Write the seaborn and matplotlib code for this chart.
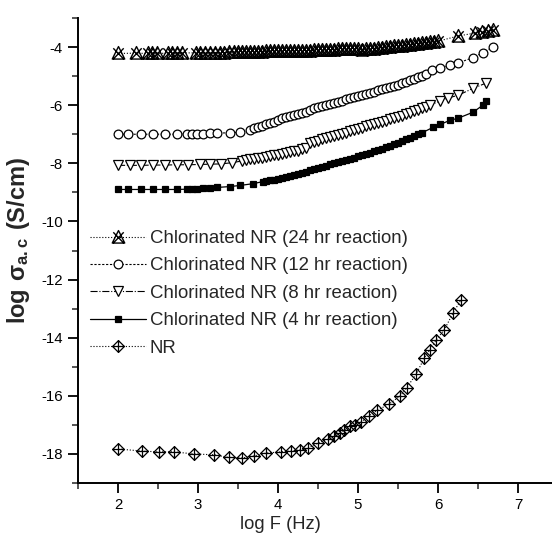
import matplotlib
matplotlib.use("Agg")
import matplotlib.pyplot as plt
from matplotlib.path import Path
from matplotlib.ticker import MultipleLocator
import seaborn as sns

# ---------------- data ----------------
labels = ["Chlorinated NR (24 hr reaction)", "Chlorinated NR (12 hr reaction)",
          "Chlorinated NR (8 hr reaction)", "Chlorinated NR (4 hr reaction)", "NR"]

x_24 = [2.0, 2.23, 2.37, 2.43, 2.49, 2.62, 2.68, 2.74, 2.8, 2.97, 3.03, 3.09, 3.15, 3.21, 3.27, 3.33, 3.39,
        3.45, 3.5, 3.55, 3.6, 3.65, 3.7, 3.75, 3.8, 3.85, 3.9, 3.95, 4.0, 4.05, 4.1, 4.15, 4.2, 4.25, 4.3,
        4.35, 4.4, 4.45, 4.5, 4.55, 4.6, 4.65, 4.7, 4.75, 4.8, 4.85, 4.9, 4.95, 5.0, 5.05, 5.1, 5.15, 5.2,
        5.25, 5.3, 5.35, 5.4, 5.45, 5.5, 5.55, 5.6, 5.65, 5.7, 5.75, 5.8, 5.85, 5.9, 5.95, 6.0,
        6.25, 6.46, 6.55, 6.63, 6.69]
y_24 = [-4.22, -4.21, -4.22, -4.21, -4.22, -4.21, -4.2, -4.21, -4.2, -4.2, -4.2, -4.19, -4.2, -4.19, -4.19, -4.19, -4.18,
        -4.18, -4.18, -4.17, -4.17, -4.17, -4.16, -4.16, -4.16, -4.15, -4.15, -4.15, -4.14, -4.14, -4.14, -4.13, -4.13, -4.13, -4.12,
        -4.12, -4.12, -4.11, -4.11, -4.1, -4.1, -4.09, -4.09, -4.08, -4.08, -4.07, -4.07, -4.06, -4.06, -4.1, -4.08, -4.07, -4.05,
        -4.04, -4.02, -4.01, -3.99, -3.98, -3.96, -3.95, -3.93, -3.92, -3.9, -3.88, -3.87, -3.85, -3.84, -3.82, -3.8,
        -3.62, -3.52, -3.48, -3.44, -3.4]

x_12 = [2.0, 2.13, 2.29, 2.44, 2.59, 2.74, 2.86, 2.93, 2.99, 3.06, 3.15, 3.24, 3.4, 3.53,
        3.65, 3.7, 3.75, 3.8, 3.85, 3.9, 3.95, 4.0, 4.05, 4.1, 4.15, 4.2, 4.25, 4.3, 4.35, 4.4, 4.45,
        4.5, 4.55, 4.6, 4.65, 4.7, 4.75, 4.8, 4.85, 4.9, 4.95, 5.0, 5.05, 5.1, 5.15, 5.2, 5.25, 5.3,
        5.35, 5.4, 5.45, 5.5, 5.55, 5.6, 5.65, 5.7, 5.75, 5.8, 5.85,
        5.93, 6.03, 6.15, 6.25, 6.44, 6.56, 6.69]
y_12 = [-7.0, -7.0, -7.0, -7.0, -7.0, -7.0, -6.99, -6.99, -6.98, -6.98, -6.97, -6.96, -6.95, -6.93,
        -6.85, -6.8, -6.75, -6.7, -6.66, -6.62, -6.57, -6.5, -6.45, -6.41, -6.37, -6.33, -6.3, -6.27, -6.24, -6.15, -6.1,
        -6.07, -6.03, -6.0, -5.96, -5.92, -5.88, -5.84, -5.8, -5.76, -5.72, -5.68, -5.65, -5.61, -5.57, -5.53, -5.49, -5.45,
        -5.41, -5.37, -5.33, -5.29, -5.24, -5.19, -5.14, -5.09, -5.04, -4.99, -4.93,
        -4.8, -4.72, -4.62, -4.55, -4.36, -4.19, -4.0]

x_8 = [2.0, 2.15, 2.29, 2.44, 2.59, 2.74, 2.88, 3.02, 3.15, 3.29, 3.42, 3.55,
       3.6, 3.65, 3.7, 3.75, 3.8, 3.85, 3.9, 3.95, 4.0, 4.05, 4.1, 4.15, 4.2, 4.25, 4.3, 4.35,
       4.4, 4.45, 4.5, 4.55, 4.6, 4.65, 4.7, 4.75, 4.8, 4.85, 4.9, 4.95, 5.0, 5.05, 5.1, 5.15, 5.2,
       5.25, 5.3, 5.35, 5.4, 5.45, 5.5, 5.55, 5.6, 5.65, 5.7, 5.75, 5.8, 5.85, 5.9,
       6.03, 6.13, 6.25, 6.44, 6.6]
y_8 = [-8.07, -8.07, -8.07, -8.06, -8.06, -8.05, -8.05, -8.04, -8.03, -8.02, -7.98, -7.92,
       -7.88, -7.86, -7.84, -7.82, -7.8, -7.78, -7.76, -7.73, -7.7, -7.68, -7.65, -7.62, -7.59, -7.56, -7.52, -7.48,
       -7.3, -7.26, -7.22, -7.18, -7.14, -7.1, -7.06, -7.02, -6.98, -6.94, -6.9, -6.86, -6.82, -6.77, -6.73, -6.69, -6.65,
       -6.61, -6.57, -6.53, -6.49, -6.45, -6.4, -6.36, -6.31, -6.26, -6.21, -6.16, -6.1, -6.05, -6.0,
       -5.85, -5.75, -5.66, -5.42, -5.24]

x_4 = [2.0, 2.13, 2.29, 2.44, 2.59, 2.74, 2.86, 2.93, 2.99, 3.06, 3.15, 3.24, 3.4, 3.53, 3.69, 3.81,
       3.85, 3.9, 3.95, 4.0, 4.05, 4.1, 4.15, 4.2, 4.25, 4.3, 4.35, 4.4, 4.45, 4.5, 4.55, 4.6, 4.65,
       4.7, 4.75, 4.8, 4.85, 4.9, 4.95, 5.0, 5.05, 5.1, 5.15, 5.2, 5.25, 5.3, 5.35, 5.4, 5.45, 5.5,
       5.55, 5.6, 5.65, 5.7, 5.75, 5.8,
       5.94, 6.03, 6.15, 6.25, 6.44, 6.56, 6.6]
y_4 = [-8.9, -8.9, -8.9, -8.9, -8.9, -8.9, -8.89, -8.88, -8.87, -8.86, -8.85, -8.83, -8.8, -8.76, -8.7, -8.63,
       -8.61, -8.59, -8.56, -8.54, -8.51, -8.48, -8.45, -8.41, -8.37, -8.33, -8.29, -8.24, -8.2, -8.16, -8.12, -8.08, -8.04,
       -8.0, -7.96, -7.92, -7.88, -7.84, -7.8, -7.76, -7.72, -7.68, -7.64, -7.59, -7.55, -7.5, -7.45, -7.4, -7.35, -7.3,
       -7.24, -7.18, -7.12, -7.06, -7.0, -6.95,
       -6.76, -6.66, -6.52, -6.45, -6.24, -6.0, -5.85]

x_nr = [2.0, 2.3, 2.51, 2.7, 2.95, 3.2, 3.39, 3.55, 3.7, 3.85, 4.04, 4.16, 4.28, 4.38, 4.5, 4.62,
        4.7, 4.78, 4.83, 4.9, 4.96, 5.04, 5.14, 5.24, 5.39, 5.53, 5.61, 5.73, 5.83, 5.9, 5.98, 6.08, 6.19, 6.29]
y_nr = [-17.83, -17.9, -17.93, -17.93, -18.0, -18.03, -18.12, -18.14, -18.07, -17.97, -17.93, -17.9, -17.86, -17.79,
        -17.62, -17.5, -17.4, -17.28, -17.17, -17.05, -17.0, -16.9, -16.68, -16.5, -16.28, -16.0, -15.72, -15.24,
        -14.69, -14.41, -14.07, -13.72, -13.14, -12.69]

x_ticks = [2, 3, 4, 5, 6, 7]
y_ticks = [-18, -16, -14, -12, -10, -8, -6, -4]

# ---------------- style ----------------
sns.set_theme(style="ticks")
plt.rcParams["font.family"] = ["Liberation Sans", "DejaVu Sans"]
plt.rcParams["mathtext.fontset"] = "custom"
plt.rcParams["mathtext.rm"] = "Liberation Sans"
plt.rcParams["mathtext.bf"] = "Liberation Sans:bold"
plt.rcParams["axes.unicode_minus"] = False

M, L, C = Path.MOVETO, Path.LINETO, Path.CLOSEPOLY
star_tri = Path([(0, 1), (-0.9, -0.8), (0.9, -0.8), (0, 1),
                 (-0.75, 0.75), (0.75, -0.8), (0.75, 0.75), (-0.75, -0.8)],
                [M, L, L, C, M, L, M, L])
diamond_plus = Path([(0, 1), (1, 0), (0, -1), (-1, 0), (0, 1),
                     (0, 1), (0, -1), (-1, 0), (1, 0)],
                    [M, L, L, L, C, M, L, M, L])

fig = plt.figure(figsize=(5.52, 5.37), dpi=100)
ax = fig.add_axes([78 / 552, 54 / 537, (558 - 78) / 552, (483 - 18) / 537])

series = [
    (x_24, y_24, dict(marker=star_tri, ms=10, mfc="none", ls=":", lw=0.8, mew=1.0)),
    (x_12, y_12, dict(marker="o", ms=6.3, mfc="white", ls=(0, (2, 1.5)), lw=0.8, mew=0.9)),
    (x_8, y_8, dict(marker="v", ms=7.8, mfc="white", ls="-.", lw=0.8, mew=0.9)),
    (x_4, y_4, dict(marker="s", ms=4.6, mfc="black", ls="-", lw=0.9, mew=0.9)),
    (x_nr, y_nr, dict(marker=diamond_plus, ms=8.5, mfc="none", ls=":", lw=0.8, mew=0.9)),
]

for (xs, ys, kw), lab in zip(series, labels):
    sns.lineplot(x=xs, y=ys, ax=ax, sort=False, estimator=None, color="black",
                 mec="black", label=lab, **kw)

ax.set_xlim(1.5, 7.5)
ax.set_ylim(-19, -3)
ax.set_xticks(x_ticks)
ax.set_yticks(y_ticks)
ax.xaxis.set_minor_locator(MultipleLocator(0.5))
ax.yaxis.set_minor_locator(MultipleLocator(1))
ax.tick_params(which="major", direction="out", length=7, width=1.3, labelsize=10.8,
               colors="black", pad=4)
ax.tick_params(which="minor", direction="out", length=4, width=1.1)
for s in ["top", "right"]:
    ax.spines[s].set_visible(False)
for s in ["left", "bottom"]:
    ax.spines[s].set_linewidth(1.4)
    ax.spines[s].set_color("black")

ax.set_xlabel("log F (Hz)", fontsize=13.2)
ax.xaxis.set_label_coords((280 - 78) / 480, -(516 - 483) / 465)
ax.set_ylabel(r"$\mathbf{log\ \sigma_{a.c}\ (S/cm)}$", fontsize=17)
ax.yaxis.set_label_coords(-(78 - 32) / 480, (483 - 240) / 465)

leg = ax.legend(loc="upper left", bbox_to_anchor=(90 / 552, 1 - 230 / 537),
                bbox_transform=fig.transFigure, frameon=False, fontsize=13.4,
                handlelength=3.0, handletextpad=0.2, labelspacing=0.56,
                borderpad=0, borderaxespad=0)

fig.savefig("out.png", dpi=100)
